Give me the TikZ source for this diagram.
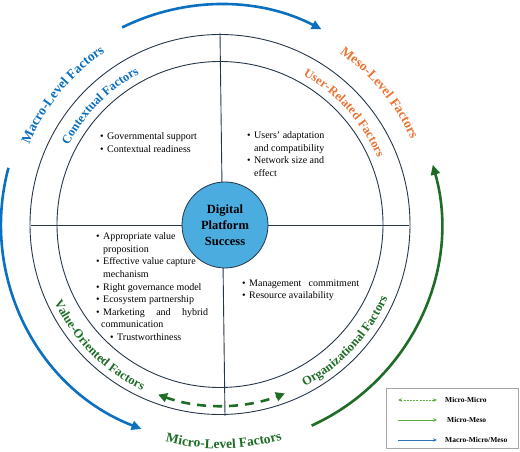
\documentclass[tikz,border=0pt]{standalone}
\usepackage{fontspec}
\setmainfont{Liberation Serif}
\usetikzlibrary{arrows.meta,decorations.text,calc}
\definecolor{linec}{HTML}{26374A}
\definecolor{macroblue}{HTML}{0B70C0}
\definecolor{mesoorange}{HTML}{EA7434}
\definecolor{microgreen}{RGB}{30,108,38}
\definecolor{leggreen}{HTML}{5DAE3F}
\definecolor{legblue}{HTML}{2E75B6}
\definecolor{corefill}{HTML}{4BACDF}
\newcommand{\bul}{\makebox[7pt][l]{\textbullet}}
\newcommand{\ind}{\hspace*{7pt}}
\newcommand{\outerfont}{\fontsize{13.5}{16}\selectfont\bfseries}
\newcommand{\ringfont}{\fontsize{12.5}{15}\selectfont\bfseries}
\begin{document}
\begin{tikzpicture}[x=1pt,y=1pt,
  ring/.style={draw=linec, line width=0.9pt},
  bigarrow/.style={line width=2.6pt, -{Triangle[length=10pt,width=9pt]}},
  core/.style={circle, fill=corefill, draw=linec, line width=0.8pt, minimum size=86pt, inner sep=0pt,
    font=\fontsize{12.5}{16}\selectfont\bfseries, align=center},
  listtext/.style={anchor=north west, inner sep=0pt, align=left, font=\fontsize{10}{12.6}\selectfont},
  legtext/.style={anchor=west, inner sep=0pt, font=\fontsize{7.5}{9}\selectfont\bfseries},
  legarrow/.style={line width=0.8pt, -{Stealth[length=4pt,width=3.5pt]}},
  lab/.style={decorate, decoration={text along path, text align=center, text color=#1}}
]
\useasboundingbox (0,0) rectangle (520,452);
\coordinate (C) at (220,227.5);

% circles and dividers
\draw[ring] (C) circle[radius=190pt];
\draw[ring] (C) circle[radius=163pt];
\coordinate (vt) at (220,419);
\coordinate (vb) at (225,36);
\coordinate (hl) at (31,227);
\coordinate (hr) at (409,227);
\draw[ring] (vt) -- (vb);
\draw[ring] (hl) -- (hr);

\node[core] (core) at (225,227) {Digital\\Platform\\Success};

% big arrows
\coordinate (topA) at ($(C)+(116.4:220pt)$);
\draw[bigarrow, macroblue] (topA) arc[start angle=116.4, end angle=62.5, radius=220pt];
\coordinate (leftA) at ($(C)+(165:219pt)$);
\draw[bigarrow, macroblue] (leftA) arc[start angle=165, end angle=249, radius=219pt];
\coordinate (rightA) at ($(C)+(-65.5:221pt)$);
\draw[bigarrow, microgreen] (rightA) arc[start angle=-65.5, end angle=15.7, radius=221pt];
\coordinate (dashA) at ($(C)+(-110:181pt)$);
\draw[microgreen, line width=2.6pt, dash pattern=on 9pt off 7pt,
  {Triangle[length=9pt,width=9pt]}-{Triangle[length=9pt,width=9pt]}]
  (dashA) arc[start angle=-110, end angle=-69, radius=181pt];

% outer labels
\path[lab=macroblue, decoration={text={|\outerfont|Macro-Level Factors}}]
  ($(C)+(170.5:207pt)$) arc[start angle=170.5, end angle=110.5, radius=207pt];
\path[lab=mesoorange, decoration={text={|\outerfont|Meso-Level Factors}}]
  ($(C)+(69.5:209pt)$) arc[start angle=69.5, end angle=9.5, radius=209pt];
\path[lab=microgreen, decoration={text={|\outerfont|Micro-Level Factors}}]
  ($(C)+(241:224pt)$) arc[start angle=241, end angle=301, radius=224pt];

% ring labels
\path[lab=macroblue, decoration={text={|\ringfont|Contextual Factors}}]
  ($(C)+(165.3:171pt)$) arc[start angle=165.3, end angle=105.3, radius=171pt];
\path[lab=mesoorange, decoration={text={|\ringfont|User-Related Factors}}]
  ($(C)+(71.9:171pt)$) arc[start angle=71.9, end angle=11.9, radius=171pt];
\path[lab=microgreen, decoration={text={|\ringfont|Value-Oriented Factors}}]
  ($(C)+(195:183pt)$) arc[start angle=195, end angle=255, radius=183pt];
\path[lab=microgreen, decoration={text={|\ringfont|Organizational Factors}}]
  ($(C)+(-73:183pt)$) arc[start angle=-73, end angle=-13, radius=183pt];

% quadrant lists
\node[listtext] (tl) at (100,319.5) {\bul Governmental support\\ \bul Contextual readiness};
\node[listtext] (tr) at (247,320.5) {\bul Users’ adaptation\\ \ind and compatibility\\ \bul Network size and\\ \ind effect};
\node[listtext] (bl) at (96,219.5) {\bul Appropriate value\\ \ind proposition\\ \bul Effective value capture\\ \ind mechanism\\ \bul Right governance model\\ \bul Ecosystem partnership\\ \bul \makebox[105pt][s]{Marketing and hybrid}\\ \hspace*{5pt}communication\\ \hspace*{14pt}\bul Trustworthiness};
\node[listtext] (br) at (242,172.5) {\bul \makebox[110pt][s]{Management commitment}\\ \bul Resource availability};

% legend
\node[draw=gray!70, line width=0.6pt, minimum width=132pt, minimum height=60pt, inner sep=0pt, anchor=south west] (legend) at (386,3) {};
\coordinate (l1a) at (398,52); \coordinate (l1b) at (437,52);
\coordinate (l2a) at (398,32); \coordinate (l2b) at (437,32);
\coordinate (l3a) at (398,12); \coordinate (l3b) at (437,12);
\draw[leggreen, line width=0.8pt, dash pattern=on 2pt off 1.2pt, {Stealth[length=4pt,width=3.5pt]}-{Stealth[length=4pt,width=3.5pt]}] (l1a) -- (l1b);
\draw[legarrow, leggreen] (l2a) -- (l2b);
\draw[legarrow, legblue] (l3a) -- (l3b);
\node[legtext] (t1) at (445,52) {Micro-Micro};
\node[legtext] (t2) at (447,32) {Micro-Meso};
\node[legtext] (t3) at (445,12) {Macro-Micro/Meso};
\end{tikzpicture}
\end{document}
